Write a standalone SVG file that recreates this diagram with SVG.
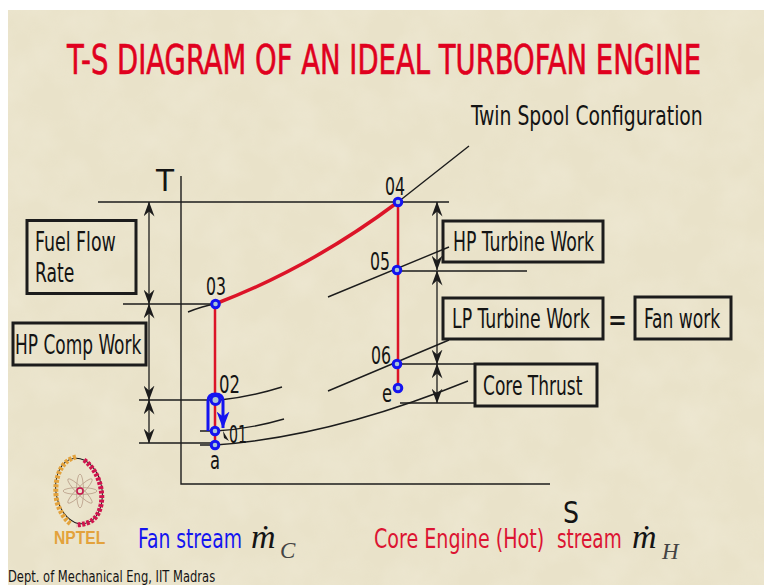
<svg xmlns="http://www.w3.org/2000/svg" width="764" height="585" viewBox="0 0 764 585">
<style>
text{font-family:"DejaVu Sans Condensed","DejaVu Sans","Liberation Sans",sans-serif;font-stretch:condensed;fill:#141414}
.l{font-size:26px}
.n{font-size:24px}
.box{fill:none;stroke:#1c1c1c;stroke-width:3}
.thin{fill:none;stroke:#1c1c1c;stroke-width:1.4}
.dim{fill:none;stroke:#1c1c1c;stroke-width:1.3;marker-start:url(#ah);marker-end:url(#ah)}
.red{fill:none;stroke:#dc1428;stroke-width:2.500}
.pt{fill:#a9c6d6;stroke:#1414f0;stroke-width:3}
.m{font-family:"Liberation Serif",serif;font-style:italic}
</style>
<defs>
<marker id="ah" viewBox="0 0 15 11" refX="14.500" refY="5.500" markerWidth="15" markerHeight="11" orient="auto-start-reverse" markerUnits="userSpaceOnUse">
<path d="M0 0 L15 5.500 L0 11 L5 5.500 Z" fill="#1c1c1c"/>
</marker>
<marker id="bh" viewBox="0 0 17 13" refX="16.500" refY="6.500" markerWidth="17" markerHeight="13" orient="auto" markerUnits="userSpaceOnUse">
<path d="M0 0 L17 6.500 L0 13 L5 6.500 Z" fill="#1414f0"/>
</marker>
<filter id="mottle" x="0" y="0" width="100%" height="100%">
<feTurbulence type="fractalNoise" baseFrequency="0.025" numOctaves="3" seed="7"/>
<feColorMatrix values="0 0 0 0 1  0 0 0 0 0.98  0 0 0 0 0.9  0.9 0 0 0 -0.3"/>
</filter>
</defs>
<rect width="764" height="585" fill="#ffffff"/>
<rect x="8" y="10" width="756" height="575" fill="#e9e2c9"/>
<rect x="8" y="10" width="756" height="575" filter="url(#mottle)" opacity="0.35"/>

<text id="title" transform="translate(67 74) scale(0.764 1)" font-size="40" textLength="830" lengthAdjust="spacingAndGlyphs" style="fill:#e0001e;stroke:#e0001e;stroke-width:0.6">T-S DIAGRAM OF AN IDEAL TURBOFAN ENGINE</text>
<text id="subtitle" class="l" transform="translate(471 125) scale(0.77 1)" textLength="301" lengthAdjust="spacingAndGlyphs">Twin Spool Configuration</text>

<g id="connectors">
<path class="thin" d="M181 176V484H550"/>
<path class="thin" d="M98 202H449M123 304H215M139 400H215M139 443H215M400 271H527M400 364H475M400 403H475"/>
<path class="thin" d="M188 312Q203 306 215 304M398 202L469 146M328 297L449 247M328 391L449 340M220 400Q250 397 282 387M200 431H215Q250 429 284 419M200 445H215Q330 437 468 381"/>
<path class="dim" d="M149 202V304"/>
<path class="dim" d="M149 304V400"/>
<path class="dim" d="M149 400V443"/>
<path class="dim" d="M437 202V270"/>
<path class="dim" d="M437 271V364"/>
<path class="dim" d="M437 364V403"/>
<path class="red" style="stroke-width:3.500" d="M215 304Q310 268 398 202"/>
<path class="red" d="M215 304V445M398 202V388"/>
<path fill="none" stroke="#1414f0" stroke-width="3" d="M208 431V401Q208 394 215.500 394Q223 394 223 401V428" marker-end="url(#bh)"/>
<path d="M223 431L229 441L224 438Z" fill="#1c1c1c"/>
</g>

<g id="p03"><circle class="pt" cx="215.500" cy="304" r="3.800"/><text class="n" x="206" y="295" textLength="20" lengthAdjust="spacingAndGlyphs">03</text></g>
<g id="p04"><circle class="pt" cx="398" cy="202" r="3.800"/><text class="n" x="385" y="195" textLength="20" lengthAdjust="spacingAndGlyphs">04</text></g>
<g id="p05"><circle class="pt" cx="397" cy="270" r="3.800"/><text class="n" x="370" y="270" textLength="20" lengthAdjust="spacingAndGlyphs">05</text></g>
<g id="p06"><circle class="pt" cx="397" cy="364" r="3.800"/><text class="n" x="371" y="364" textLength="20" lengthAdjust="spacingAndGlyphs">06</text></g>
<g id="pe"><circle class="pt" cx="398" cy="388" r="3.800"/><text class="n" x="382" y="402" textLength="10" lengthAdjust="spacingAndGlyphs">e</text></g>
<g id="p02"><circle class="pt" cx="215.500" cy="400" r="4.500"/><text class="n" x="219" y="393" textLength="21" lengthAdjust="spacingAndGlyphs">02</text></g>
<g id="p01"><circle class="pt" cx="215" cy="431" r="3.800"/><text class="n" transform="translate(229 443) scale(0.75 1)" textLength="24" lengthAdjust="spacingAndGlyphs">01</text></g>
<g id="pa"><circle class="pt" cx="215" cy="445" r="3.800"/><text class="n" x="210" y="469" textLength="10" lengthAdjust="spacingAndGlyphs">a</text></g>

<g id="axisT"><text x="156" y="191" font-size="30" textLength="18" lengthAdjust="spacingAndGlyphs">T</text></g>
<g id="axisS"><text x="563" y="523" font-size="31" textLength="16" lengthAdjust="spacingAndGlyphs">S</text></g>

<g id="fuel"><rect class="box" x="27" y="220.500" width="109" height="73"/><text class="l" transform="translate(35 251) scale(0.77 1)" textLength="105" lengthAdjust="spacingAndGlyphs">Fuel Flow</text><text class="l" transform="translate(35 282) scale(0.77 1)" textLength="51" lengthAdjust="spacingAndGlyphs">Rate</text></g>
<g id="hpcomp"><rect class="box" x="13" y="323" width="133" height="42"/><text class="l" transform="translate(15 354) scale(0.77 1)" textLength="164" lengthAdjust="spacingAndGlyphs">HP Comp Work</text></g>
<g id="hpturb"><rect class="box" x="443" y="221" width="160" height="41"/><text class="l" transform="translate(453 251) scale(0.77 1)" textLength="183" lengthAdjust="spacingAndGlyphs">HP Turbine Work</text></g>
<g id="lpturb"><rect class="box" x="443" y="298" width="160" height="41"/><text class="l" transform="translate(452 328) scale(0.77 1)" textLength="179" lengthAdjust="spacingAndGlyphs">LP Turbine Work</text></g>
<g id="eq"><text transform="translate(608 331) scale(0.7 1)" font-size="32" textLength="27" lengthAdjust="spacingAndGlyphs">=</text></g>
<g id="fan"><rect class="box" x="635" y="297" width="96" height="42"/><text class="l" transform="translate(644 328) scale(0.77 1)" textLength="99" lengthAdjust="spacingAndGlyphs">Fan work</text></g>
<g id="core"><rect class="box" x="475" y="364" width="122" height="42"/><text class="l" transform="translate(483 395) scale(0.77 1)" textLength="129" lengthAdjust="spacingAndGlyphs">Core Thrust</text></g>

<g id="logo">
<ellipse cx="79" cy="491" rx="23" ry="33" fill="none" stroke="#1c1c1c" stroke-width="1" transform="rotate(-10 79 491)"/>
<path d="M76 457C59 461 53 482 57 502C60 512 65 520 71 524" fill="none" stroke="#e3a23c" stroke-width="5" stroke-dasharray="3 1.500"/>
<path d="M84 460C98 470 104 490 101 505C98 518 92 524 76 525" fill="none" stroke="#d0144e" stroke-width="5" stroke-dasharray="3 1.500"/>
<g fill="none" stroke="#b89c86" stroke-width="0.800">
<ellipse cx="80" cy="491" rx="3.500" ry="17" transform="rotate(0 80 491)"/>
<ellipse cx="80" cy="491" rx="3.500" ry="17" transform="rotate(45 80 491)"/>
<ellipse cx="80" cy="491" rx="3.500" ry="17" transform="rotate(90 80 491)"/>
<ellipse cx="80" cy="491" rx="3.500" ry="17" transform="rotate(135 80 491)"/>
</g>
<circle cx="80" cy="491" r="3" fill="none" stroke="#c8144e" stroke-width="1.500"/>
<text transform="translate(54 544) scale(0.8 1)" font-size="18" font-weight="bold" textLength="64" lengthAdjust="spacingAndGlyphs" style="fill:#e3a23c;font-family:'Liberation Sans',sans-serif">NPTEL</text>
</g>

<g id="fanstream"><text class="l" transform="translate(138 548) scale(0.77 1)" textLength="135" lengthAdjust="spacingAndGlyphs" style="fill:#1414f0">Fan stream</text><text class="m" x="251" y="548" font-size="34">ṁ</text><text class="m" x="280" y="558" font-size="23" style="fill:#444">C</text></g>
<g id="corestream"><text class="l" transform="translate(374 548) scale(0.77 1)" textLength="221" lengthAdjust="spacingAndGlyphs" style="fill:#dc1432">Core Engine (Hot)</text><text class="l" transform="translate(557 548) scale(0.77 1)" textLength="84" lengthAdjust="spacingAndGlyphs" style="fill:#dc1432">stream</text><text class="m" x="632" y="548" font-size="34">ṁ</text><text class="m" x="662" y="559" font-size="23" style="fill:#444">H</text></g>
<text id="footer" transform="translate(8 582) scale(0.77 1)" font-size="16" textLength="269" lengthAdjust="spacingAndGlyphs">Dept. of Mechanical Eng, IIT Madras</text>
</svg>
